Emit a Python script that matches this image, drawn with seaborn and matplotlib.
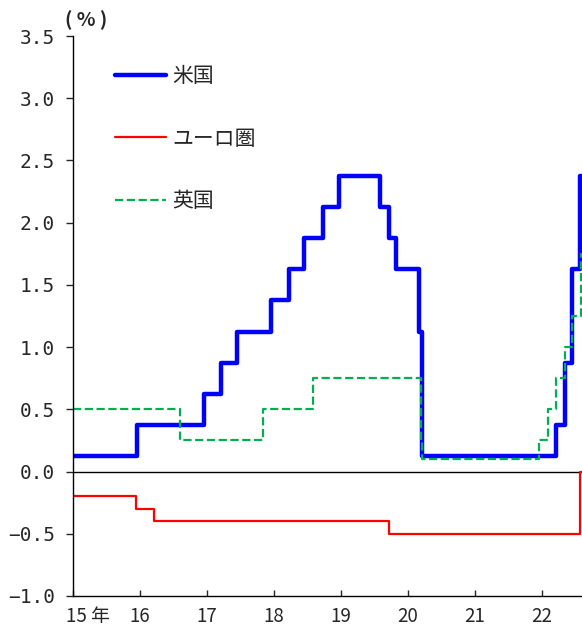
import pandas as pd
import seaborn as sns
import matplotlib.pyplot as plt
from matplotlib.transforms import ScaledTranslation

us_dates = ["2015-01-01", "2015-12-17", "2016-12-15", "2017-03-16", "2017-06-15",
            "2017-12-14", "2018-03-22", "2018-06-14", "2018-09-27", "2018-12-20",
            "2019-08-01", "2019-09-19", "2019-10-31", "2020-03-04", "2020-03-16",
            "2022-03-17", "2022-05-05", "2022-06-16", "2022-07-28", "2022-08-08"]
us_rate = [0.125, 0.375, 0.625, 0.875, 1.125,
           1.375, 1.625, 1.875, 2.125, 2.375,
           2.125, 1.875, 1.625, 1.125, 0.125,
           0.375, 0.875, 1.625, 2.375, 2.375]

eu_dates = ["2015-01-01", "2015-12-09", "2016-03-16", "2019-09-18", "2022-07-27", "2022-08-08"]
eu_rate = [-0.2, -0.3, -0.4, -0.5, 0.0, 0.0]

uk_dates = ["2015-01-01", "2016-08-04", "2017-11-02", "2018-08-02", "2020-03-11",
            "2020-03-19", "2021-12-16", "2022-02-03", "2022-03-17", "2022-05-05",
            "2022-06-16", "2022-08-04", "2022-08-08"]
uk_rate = [0.5, 0.25, 0.5, 0.75, 0.25,
           0.1, 0.25, 0.5, 0.75, 1.0,
           1.25, 1.75, 1.75]

names = ["米国", "ユーロ圏", "英国"]
year_labels = ["15 年", "16", "17", "18", "19", "20", "21", "22"]
y_ticks = [-1.0, -0.5, 0.0, 0.5, 1.0, 1.5, 2.0, 2.5, 3.0, 3.5]

sns.set_style("ticks")
plt.rcParams['font.family'] = ['Noto Sans CJK JP', 'DejaVu Sans']

fig = plt.figure(figsize=(5.82, 6.33), dpi=100)
ax = fig.add_axes([0.1254, 0.0585, 0.8746, 0.8846])

ax.axhline(0, color="black", lw=1, zorder=1)

us = pd.DataFrame({"date": pd.to_datetime(us_dates), "rate": us_rate})
eu = pd.DataFrame({"date": pd.to_datetime(eu_dates), "rate": eu_rate})
uk = pd.DataFrame({"date": pd.to_datetime(uk_dates), "rate": uk_rate})

sns.lineplot(data=us, x="date", y="rate", ax=ax, color="#0000FF", lw=3.2,
             drawstyle="steps-post", label=names[0])
sns.lineplot(data=eu, x="date", y="rate", ax=ax, color="#FF0000", lw=1.6,
             drawstyle="steps-post", label=names[1])
sns.lineplot(data=uk, x="date", y="rate", ax=ax, color="#00B050", lw=1.6,
             drawstyle="steps-post", dashes=(3.5, 2), linestyle="--", label=names[2])

ax.set_xlim(pd.Timestamp("2015-01-01"), pd.Timestamp("2022-08-08"))
ax.set_ylim(-1.0, 3.5)
ax.set_yticks(y_ticks)
ax.set_yticklabels([f"{v:.1f}".replace("-", "\u2212") for v in y_ticks],
                   fontsize=14, family=["DejaVu Sans Mono", "DejaVu Sans"])

years = [pd.Timestamp(f"{y}-01-01") for y in range(2015, 2023)]
ax.set_xticks(years)
ax.set_xticklabels(year_labels, fontsize=13.5)
ax.tick_params(axis="x", direction="in", length=4, width=1, pad=7)
ax.tick_params(axis="y", direction="out", length=5, width=1, pad=8)
first = ax.get_xticklabels()[0]
first.set_transform(first.get_transform() + ScaledTranslation(11 / 72, 0, fig.dpi_scale_trans))

ax.set_xlabel("")
ax.set_ylabel("")
sns.despine(ax=ax)
for s in ["left", "bottom"]:
    ax.spines[s].set_linewidth(1)
    ax.spines[s].set_color("black")

ax.text(-0.016, 1.028, "( % )", transform=ax.transAxes, fontsize=14,
        fontweight="bold", ha="left", va="center")

leg = ax.legend(loc="upper left", bbox_to_anchor=(0.082, 0.948), frameon=False,
                fontsize=15, handlelength=2.45, handletextpad=0.3, labelspacing=1.95,
                borderpad=0, borderaxespad=0)

fig.savefig("out.png", dpi=100)
